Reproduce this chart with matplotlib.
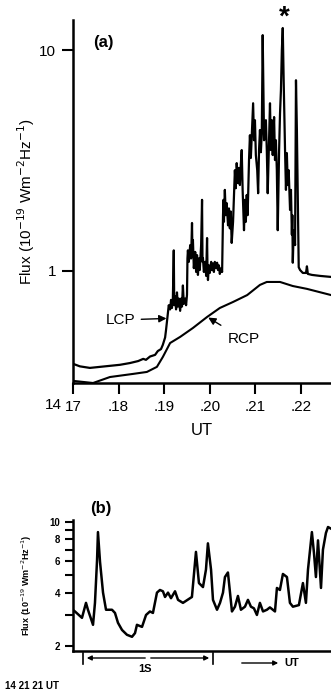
import matplotlib
matplotlib.use("Agg")
import matplotlib.pyplot as plt
import numpy as np

plt.rcParams['font.family'] = ['Liberation Sans', 'DejaVu Sans']

# (a) time in minutes after 14h UT, flux in 1e-19 W m-2 Hz-1
rcp_t = [17.00, 17.44, 17.81, 18.32, 18.62, 18.84, 18.97, 19.13, 19.35, 19.63,
         19.94, 20.22, 20.51, 20.82, 21.10, 21.25, 21.54, 21.82, 22.13, 22.66]
rcp_f = [0.318, 0.311, 0.331, 0.342, 0.349, 0.368, 0.408, 0.472, 0.503, 0.552,
         0.619, 0.680, 0.724, 0.778, 0.865, 0.892, 0.892, 0.855, 0.830, 0.778]

lcp_t = [17.00, 17.15, 17.37, 17.59, 17.81, 18.03, 18.25, 18.43, 18.54, 18.60,
         18.69, 18.80, 18.86, 18.93, 18.97, 19.02, 19.04, 19.06, 19.08,
         19.10, 19.13, 19.15, 19.17, 19.19, 19.21, 19.22, 19.24, 19.26, 19.28,
         19.30, 19.32, 19.35, 19.37, 19.39, 19.41, 19.43, 19.46, 19.48, 19.50,
         19.51, 19.52, 19.54, 19.57, 19.59, 19.61, 19.62, 19.63, 19.65, 19.68,
         19.70, 19.72, 19.74, 19.76, 19.78, 19.81, 19.83, 19.84,
         19.85, 19.87, 19.90, 19.92, 19.94, 19.95, 19.96, 19.98, 20.00, 20.03,
         20.05, 20.07, 20.09, 20.11, 20.14, 20.16, 20.18, 20.20, 20.22, 20.25, 20.27,
         20.29, 20.30, 20.31, 20.33, 20.35, 20.37, 20.40, 20.42, 20.44, 20.46,
         20.48, 20.51, 20.53, 20.55, 20.57, 20.59, 20.62, 20.64, 20.66, 20.68,
         20.70, 20.72, 20.75, 20.77, 20.79, 20.81, 20.83, 20.86, 20.88, 20.90,
         20.93, 20.95, 20.97, 20.99, 21.01, 21.04, 21.06, 21.08, 21.10, 21.12,
         21.14, 21.16, 21.19, 21.21, 21.23, 21.25, 21.27, 21.30, 21.32, 21.34,
         21.36, 21.38, 21.41, 21.43, 21.45, 21.47, 21.49, 21.52, 21.54, 21.56,
         21.58, 21.60, 21.62, 21.65, 21.67, 21.69, 21.71, 21.73, 21.76, 21.78,
         21.80, 21.81, 21.82, 21.84, 21.87, 21.89, 21.91, 21.93, 21.95, 21.98,
         22.04, 22.11, 22.13, 22.15, 22.24, 22.42, 22.66]
lcp_f = [0.38, 0.37, 0.364, 0.368, 0.372, 0.376, 0.383, 0.391, 0.40, 0.396,
         0.41, 0.417, 0.434, 0.443, 0.463, 0.50, 0.54, 0.59, 0.65,
         0.70, 0.67, 0.74, 0.68, 0.75, 1.24, 0.70, 0.77, 0.67, 0.80,
         0.69, 0.75, 0.66, 0.75, 0.69, 0.86, 0.71, 0.75, 0.70, 0.78,
         1.14, 1.24, 1.10, 1.31, 1.14, 1.65, 1.18, 1.38, 1.03, 1.22,
         0.99, 1.18, 0.96, 1.14, 1.01, 1.31, 2.10, 1.10,
         1.14, 0.99, 1.10, 0.95, 1.41, 1.01, 0.91, 1.06, 0.98, 1.10,
         1.01, 1.08, 0.99, 1.10, 1.03, 1.09, 1.01, 1.06, 0.97, 1.03, 0.99,
         1.79, 2.10, 1.67, 2.33, 1.79, 2.03, 1.61, 1.92, 1.56, 1.86,
         1.34, 1.67, 2.21, 2.86, 2.37, 3.08, 2.50, 2.93, 2.45, 3.03,
         3.53, 2.33, 1.53, 2.10, 1.67, 2.21, 1.79, 3.18, 4.12, 3.25,
         4.58, 5.75, 3.91, 4.82, 3.35, 2.86, 2.25, 3.53, 4.35, 3.45,
         4.20, 11.7, 3.91, 4.04, 4.82, 3.53, 2.25, 3.91, 5.75, 3.53,
         4.82, 3.35, 4.98, 3.18, 3.91, 2.86, 1.53, 3.53, 5.18, 6.59,
         10.0, 12.6, 7.31, 3.53, 2.33, 3.42, 2.45, 2.86, 1.89, 2.33,
         1.46, 1.79, 1.09, 1.53, 1.31, 7.31, 4.35, 2.10, 1.04, 1.01,
         0.98, 0.98, 1.05, 0.97, 0.96, 0.95, 0.94]

xtick_pos = [17, 18, 19, 20, 21, 22]
xtick_lab = ['17', '.18', '.19', '.20', '.21', '.22']

# (b) time in seconds, flux
b_t = [0.0, 0.015, 0.069, 0.10, 0.115, 0.154, 0.169, 0.185, 0.192, 0.208,
       0.231, 0.254, 0.30, 0.323, 0.346, 0.377, 0.415, 0.454, 0.477, 0.492,
       0.531, 0.562, 0.592, 0.615, 0.646, 0.669, 0.692, 0.708, 0.731, 0.754,
       0.785, 0.808, 0.846, 0.915, 0.946, 0.969, 1.0, 1.023, 1.038, 1.062,
       1.077, 1.108, 1.131, 1.154, 1.169, 1.192, 1.208, 1.223, 1.246, 1.269,
       1.292, 1.323, 1.346, 1.369, 1.392, 1.415, 1.438, 1.462, 1.492, 1.515,
       1.554, 1.569, 1.592, 1.615, 1.646, 1.669, 1.692, 1.738, 1.769, 1.792,
       1.808, 1.838, 1.854, 1.869, 1.885, 1.908, 1.923, 1.946, 1.962, 1.985]
b_f = [3.19, 3.13, 2.88, 3.5, 3.2, 2.63, 3.5, 6.1, 8.8, 5.96,
       4.0, 3.2, 3.2, 3.07, 2.7, 2.46, 2.31, 2.25, 2.36, 2.63,
       2.56, 2.99, 3.13, 3.07, 4.0, 4.14, 4.07, 3.78, 4.0, 3.72,
       4.07, 3.64, 3.5, 3.78, 6.8, 4.53, 4.3, 5.4, 7.6, 5.4,
       3.64, 3.2, 3.5, 4.0, 4.9, 5.2, 4.0, 3.13, 3.33, 3.83,
       3.2, 3.33, 3.64, 3.33, 3.26, 2.99, 3.5, 3.13, 3.2, 3.3,
       3.13, 4.25, 4.14, 5.1, 4.9, 3.5, 3.33, 3.4, 4.53, 3.5,
       5.4, 8.8, 6.7, 4.9, 7.9, 4.25, 7.0, 8.7, 9.4, 9.2]
b_ticks = [2, 4, 6, 8, 10]
b_minor = [3, 5, 7, 9]

W, H = 331, 690
fig = plt.figure(figsize=(W/100, H/100), dpi=100, facecolor='w')

def fx(px):
    return px / W

def fy(py):
    return 1 - py / H

# ---- panel (a)
ax = fig.add_axes([fx(73), fy(383), fx(331) - fx(73), fy(20) - fy(383)])
ax.plot(lcp_t, lcp_f, 'k', linewidth=1.6)
ax.plot(rcp_t, rcp_f, 'k', linewidth=1.5)
ax.set_yscale('log')
ax.set_xlim(17.0, 22.658)
ax.set_ylim(0.311, 13.7)
for s in ['top', 'right']:
    ax.spines[s].set_visible(False)
for s in ['left', 'bottom']:
    ax.spines[s].set_linewidth(1.8)
ax.set_yticks([1, 10])
ax.set_yticklabels(['1', '10'], fontsize=11)
ax.yaxis.set_minor_locator(matplotlib.ticker.NullLocator())
ax.set_xticks(xtick_pos)
ax.set_xticklabels(xtick_lab, fontsize=11)
ax.tick_params(axis='both', direction='out', length=8, width=1.5, pad=4)
ax.set_xlabel('UT', fontsize=12, labelpad=7)
ax.set_ylabel('Flux (10$^{-19}$ Wm$^{-2}$Hz$^{-1}$)', fontsize=11)
ax.yaxis.set_label_coords(-0.14, 0.5)

fig.text(fx(53), fy(405), '14', fontsize=11, ha='center', va='center')
fig.text(fx(103), fy(42), '(a)', fontsize=12, fontweight='bold', ha='center', va='center')
fig.text(fx(284), fy(18), '*', fontsize=20, fontweight='bold', ha='center', va='center')

ax.annotate('LCP', xy=(19.08, 0.61), xytext=(18.05, 0.60), fontsize=11,
            ha='center', va='center',
            arrowprops=dict(arrowstyle='-|>', color='k', lw=1.0, shrinkA=2, shrinkB=1))
ax.annotate('RCP', xy=(19.94, 0.62), xytext=(20.75, 0.49), fontsize=11,
            ha='center', va='center',
            arrowprops=dict(arrowstyle='-|>', color='k', lw=1.0, shrinkA=6, shrinkB=1))

# ---- panel (b)
bx = fig.add_axes([fx(73), fy(651), fx(331) - fx(73), fy(520) - fy(651)])
bx.plot(b_t, b_f, 'k', linewidth=1.8)
bx.set_yscale('log')
bx.set_xlim(0, 1.985)
bx.set_ylim(1.87, 10.3)
for s in ['top', 'right']:
    bx.spines[s].set_visible(False)
for s in ['left', 'bottom']:
    bx.spines[s].set_linewidth(1.8)
bx.set_yticks(b_ticks)
bx.set_yticklabels([str(v) for v in b_ticks], fontsize=7, fontweight='bold')
bx.set_yticks(b_minor, minor=True)
bx.set_yticklabels([], minor=True)
bx.set_xticks([])
bx.tick_params(axis='y', which='both', direction='out', length=6, width=1.5, pad=3)
bx.set_ylabel('Flux (10$^{-19}$ Wm$^{-2}$Hz$^{-1}$)', fontsize=6.5, fontweight='bold')
bx.yaxis.set_label_coords(-0.15, 0.5)

fig.text(fx(101), fy(508), '(b)', fontsize=12, fontweight='bold', ha='center', va='center')

# 1 s bracket
fig.add_artist(matplotlib.lines.Line2D([fx(83), fx(83)], [fy(653), fy(664)], color='k', lw=1.2))
fig.add_artist(matplotlib.lines.Line2D([fx(213), fx(213)], [fy(653), fy(664)], color='k', lw=1.2))
fig.add_artist(matplotlib.patches.FancyArrowPatch((fx(148), fy(658)), (fx(84), fy(658)),
               transform=fig.transFigure, arrowstyle='-|>', mutation_scale=7, color='k', lw=1.0))
fig.add_artist(matplotlib.patches.FancyArrowPatch((fx(148), fy(658)), (fx(212), fy(658)),
               transform=fig.transFigure, arrowstyle='-|>', mutation_scale=7, color='k', lw=1.0))
fig.text(fx(145), fy(669), '1S', fontsize=8, fontweight='bold', ha='center', va='center')
fig.add_artist(matplotlib.patches.FancyArrowPatch((fx(239), fy(663)), (fx(281), fy(663)),
               transform=fig.transFigure, arrowstyle='-|>', mutation_scale=7, color='k', lw=1.0))
fig.text(fx(284), fy(663), 'UT', fontsize=8, fontweight='bold', ha='left', va='center')
fig.text(fx(5), fy(686), '14 21 21 UT', fontsize=7, fontweight='bold', ha='left', va='center')

fig.savefig('out.png', dpi=100, facecolor='w')
